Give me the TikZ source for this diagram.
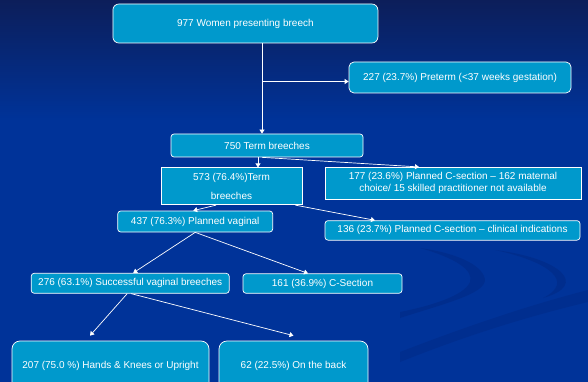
\documentclass[tikz,border=0pt]{standalone}
\usepackage{fontspec}
\setmainfont{Liberation Sans}
\usetikzlibrary{arrows.meta}
\definecolor{boxblue}{RGB}{0,153,204}
\definecolor{slidetop}{RGB}{12,30,90}
\definecolor{slideblue}{RGB}{0,51,153}
\definecolor{swooshblue}{RGB}{0,38,125}
\tikzset{
  box/.style={draw=white, line width=0.7pt, fill=boxblue, text=white, rounded corners=3pt,
    inner sep=0pt, align=center, font=\fontsize{10}{12}\selectfont},
  flatbox/.style={box, rounded corners=0pt},
  link/.style={white, line width=0.7pt, -{Triangle[width=5pt,length=4pt]}}
}
\begin{document}
\begin{tikzpicture}[x=1pt,y=-1pt]
\useasboundingbox (0,0) rectangle (588,382);
\fill[slideblue] (0,0) rectangle (588,382);
\shade[top color=slidetop, bottom color=slideblue] (0,0) rectangle (588,120);
\fill[swooshblue, opacity=0.4] (400,318) .. controls (450,302) and (492,292) .. (484,276) .. controls (478,262) and (450,252) .. (420,248) .. controls (455,258) and (474,270) .. (470,282) .. controls (464,296) and (430,306) .. (400,312) -- cycle;
\fill[swooshblue, opacity=0.4] (495,250) .. controls (560,258) and (590,285) .. (543,298) .. controls (575,282) and (550,262) .. (495,250) -- cycle;
\fill[swooshblue, opacity=0.35] (400,352) .. controls (470,325) and (530,305) .. (588,290) -- (588,302) .. controls (530,316) and (470,334) .. (400,362) -- cycle;

\draw (245.4,23.5) node[box, rounded corners=6pt, minimum width=265pt, minimum height=39pt] (top977) {977 Women presenting breech};
\draw (460,77.5) node[box, rounded corners=5pt, minimum width=222pt, minimum height=31pt] (pre227) {227 (23.7\%) Preterm (<37 weeks gestation)};
\draw (267,145.5) node[box, minimum width=192pt, minimum height=23pt] (term750) {750 Term breeches};
\draw (231.5,186.3) node[flatbox, minimum width=141pt, minimum height=37pt] (t573) {573 (76.4\%)Term\\[6.5pt]breeches};
\draw (453,183.3) node[flatbox, minimum width=256pt, minimum height=32pt] (cs177) {177 (23.6\%) Planned C-section -- 162 maternal\\choice/ 15 skilled practitioner not available};
\draw (195.2,221.5) node[box, minimum width=155pt, minimum height=21pt] (pv437) {437 (76.3\%) Planned vaginal};
\draw (452.5,230.4) node[box, minimum width=255pt, minimum height=19.5pt] (cs136) {136 (23.7\%) Planned C-section -- clinical indications};
\draw (130.2,283.3) node[box, minimum width=198pt, minimum height=20pt] (sv276) {276 (63.1\%) Successful vaginal breeches};
\draw (322.5,283.5) node[box, minimum width=159pt, minimum height=19.5pt] (cs161) {161 (36.9\%) C-Section};
\draw (110.5,366) node[box, rounded corners=8pt, minimum width=197pt, minimum height=50pt] (hk207) {207 (75.0 \%) Hands \& Knees or Upright};
\draw (293.5,366) node[box, rounded corners=8pt, minimum width=149pt, minimum height=50pt] (back62) {62 (22.5\%) On the back};

\coordinate (split) at (262,81.5);
\draw[link] ([xshift=16.6pt]top977.south) -- ([xshift=-5pt]term750.north);
\draw[link] (split) -- (split -| pre227.west);
\draw[link] ([xshift=-9pt]term750.south) -- ([xshift=26.5pt]t573.north);
\draw[link] ([xshift=-5pt]term750.south) -- ([xshift=-34pt]cs177.north);
\draw[link] ([xshift=-15.5pt]t573.south) -- ([xshift=-2pt]pv437.north);
\draw[link] ([xshift=-7pt]t573.south east) -- ([xshift=-77.5pt]cs136.north);
\draw[link] (pv437.south) -- ([xshift=3pt]sv276.north);
\draw[link] (pv437.south) -- ([xshift=-14.5pt]cs161.north);
\draw[link] ([xshift=-3pt]sv276.south) -- ([xshift=-20.5pt,yshift=5pt]hk207.north);
\draw[link] ([xshift=1pt]sv276.south) -- ([yshift=5pt]back62.north);
\end{tikzpicture}
\end{document}
